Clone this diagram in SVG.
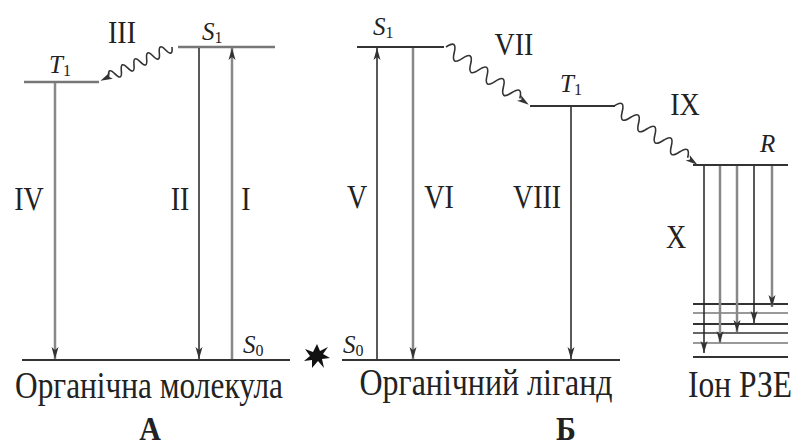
<svg xmlns="http://www.w3.org/2000/svg" width="794" height="447" viewBox="0 0 794 447">
<style>
.lvl{stroke:#333;stroke-width:2;fill:none}
.lvlg{stroke:#777;stroke-width:2.5;fill:none}
.vb{stroke:#222;stroke-width:1.5;fill:none}
.vg{stroke:#888;stroke-width:2.5;fill:none}
.wave{stroke:#333;stroke-width:1.6;fill:none}
.ah{fill:#333}
text{font-family:"Liberation Serif","Times New Roman","DejaVu Serif",serif;fill:#222}
.rn{font-size:28px;text-anchor:middle}
.it{font-size:25px;font-style:italic}
.sub{font-size:16px;font-style:normal}
.cap{font-size:30px;text-anchor:middle}
.bold{font-size:30px;font-weight:bold;text-anchor:middle}
</style>
<defs>
<marker id="arr" viewBox="-13 -5 14 10" markerWidth="14" markerHeight="10" refX="0" refY="0" orient="auto" markerUnits="userSpaceOnUse">
<path d="M0,0 L-12,-3.5 L-9,0 L-12,3.5 Z" fill="#333"/>
</marker>
</defs>

<g id="panelA">
<g id="A_T1"><line class="lvlg" x1="24" y1="82" x2="99" y2="82"/><text class="it" x="49" y="73">T<tspan class="sub" dy="3">1</tspan></text></g>
<g id="A_S1"><line class="lvlg" x1="178" y1="47" x2="275" y2="47"/><text class="it" x="202" y="40">S<tspan class="sub" dy="3">1</tspan></text></g>
<g id="A_S0"><line class="lvl" x1="22" y1="360" x2="290" y2="360"/><text class="it" x="243" y="353">S<tspan class="sub" dy="3">0</tspan></text></g>
<text class="cap" transform="translate(149,398) scale(1,1.25)" x="0" y="0" textLength="268" lengthAdjust="spacingAndGlyphs">Органічна молекула</text>
<text class="bold" transform="translate(150,440) scale(1,1.1)" x="0" y="0">А</text>
</g>

<g id="panelB">
<g id="B_S1"><line class="lvl" x1="357" y1="47" x2="444" y2="47"/><text class="it" x="373" y="35">S<tspan class="sub" dy="3">1</tspan></text></g>
<g id="B_T1"><line class="lvl" x1="530" y1="106" x2="615" y2="106"/><text class="it" x="560" y="92">T<tspan class="sub" dy="3">1</tspan></text></g>
<g id="B_S0"><line class="lvl" x1="342" y1="360" x2="620" y2="360"/><text class="it" x="343" y="353">S<tspan class="sub" dy="3">0</tspan></text></g>
<text class="cap" transform="translate(486,395) scale(1,1.25)" x="0" y="0" textLength="253" lengthAdjust="spacingAndGlyphs">Органічний ліганд</text>
<text class="bold" transform="translate(566,440) scale(1,1.1)" x="0" y="0">Б</text>
</g>

<g id="ion">
<g id="R_level"><line class="lvl" x1="693" y1="165" x2="788" y2="165"/><text class="it" x="760" y="152">R</text></g>
<g id="ion_levels">
<line class="lvl" x1="693" y1="304" x2="788" y2="304"/>
<line class="lvlg" x1="693" y1="313" x2="788" y2="313" style="stroke-width:1.5"/>
<line class="lvl" x1="693" y1="324" x2="788" y2="324"/>
<line class="lvl" x1="693" y1="333" x2="788" y2="333" style="stroke-width:1.5"/>
<line class="lvlg" x1="693" y1="343" x2="788" y2="343" style="stroke-width:1.5"/>
<line class="lvl" x1="693" y1="357" x2="788" y2="357"/>
</g>
<text class="cap" transform="translate(740,397) scale(1,1.25)" x="0" y="0" textLength="104" lengthAdjust="spacingAndGlyphs">Іон РЗЕ</text>
</g>

<g id="star">
<polygon points="317,344 320,351 328,347 323,354 330,358 322,359 324,368 318,361 312,368 312,360 304,361 310,356 305,349 313,352" fill="#111"/>
</g>

<g id="connectors">
<line class="vg" x1="55" y1="83" x2="55" y2="359" marker-end="url(#arr)"/>
<line class="vb" x1="199" y1="48" x2="199" y2="359" marker-end="url(#arr)"/>
<line class="vg" x1="232" y1="359" x2="232" y2="48" marker-end="url(#arr)"/>
<g transform="translate(172,47) rotate(154.8)">
<path class="wave" d="M0,0 q3.5,-10 7,0 t7,0 t7,0 t7,0 t7,0 t7,0 t7,0 t7,0 t7,0 t7,0 l1,0"/>
<path class="ah" d="M79,0 L67,-3.5 L70,0 L67,3.5 Z"/>
</g>
<line class="vb" x1="377" y1="359" x2="377" y2="48" marker-end="url(#arr)"/>
<line class="vg" x1="413" y1="48" x2="413" y2="359" marker-end="url(#arr)"/>
<line class="vb" x1="571" y1="107" x2="571" y2="359" marker-end="url(#arr)"/>
<g transform="translate(446,47) rotate(34.9)">
<path class="wave" d="M0,0 q5,-13 10,0 t10,0 t10,0 t10,0 t10,0 t10,0 t10,0 t10,0 t10,0"/>
<path class="ah" d="M101,0 L89,-3.5 L92,0 L89,3.5 Z"/>
</g>
<g transform="translate(614,106) rotate(35.1)">
<path class="wave" d="M0,0 q5,-13 10,0 t10,0 t10,0 t10,0 t10,0 t10,0 t10,0 t10,0 t10,0"/>
<path class="ah" d="M102,0 L90,-3.5 L93,0 L90,3.5 Z"/>
</g>
<line class="vb" x1="704" y1="166" x2="704" y2="353" marker-end="url(#arr)"/>
<line class="vg" x1="720" y1="166" x2="720" y2="343" marker-end="url(#arr)"/>
<line class="vg" x1="737" y1="166" x2="737" y2="332" marker-end="url(#arr)"/>
<line class="vb" x1="754" y1="166" x2="754" y2="323" marker-end="url(#arr)"/>
<line class="vg" x1="772" y1="166" x2="772" y2="307" marker-end="url(#arr)"/>
</g>

<g id="labels">
<text class="rn" transform="translate(29,210) scale(1,1.2)">IV</text>
<text class="rn" transform="translate(180,210) scale(1,1.2)">II</text>
<text class="rn" transform="translate(246,210) scale(1,1.2)">I</text>
<text class="rn" transform="translate(122,43) scale(1,1.1)">III</text>
<text class="rn" transform="translate(357,208) scale(1,1.2)">V</text>
<text class="rn" transform="translate(439,208) scale(1,1.2)">VI</text>
<text class="rn" transform="translate(537,208) scale(1,1.2)">VIII</text>
<text class="rn" transform="translate(514,55) scale(1,1.1)">VII</text>
<text class="rn" transform="translate(685,115) scale(1,1.1)">IX</text>
<text class="rn" transform="translate(676,248) scale(1,1.2)">X</text>
</g>
</svg>
